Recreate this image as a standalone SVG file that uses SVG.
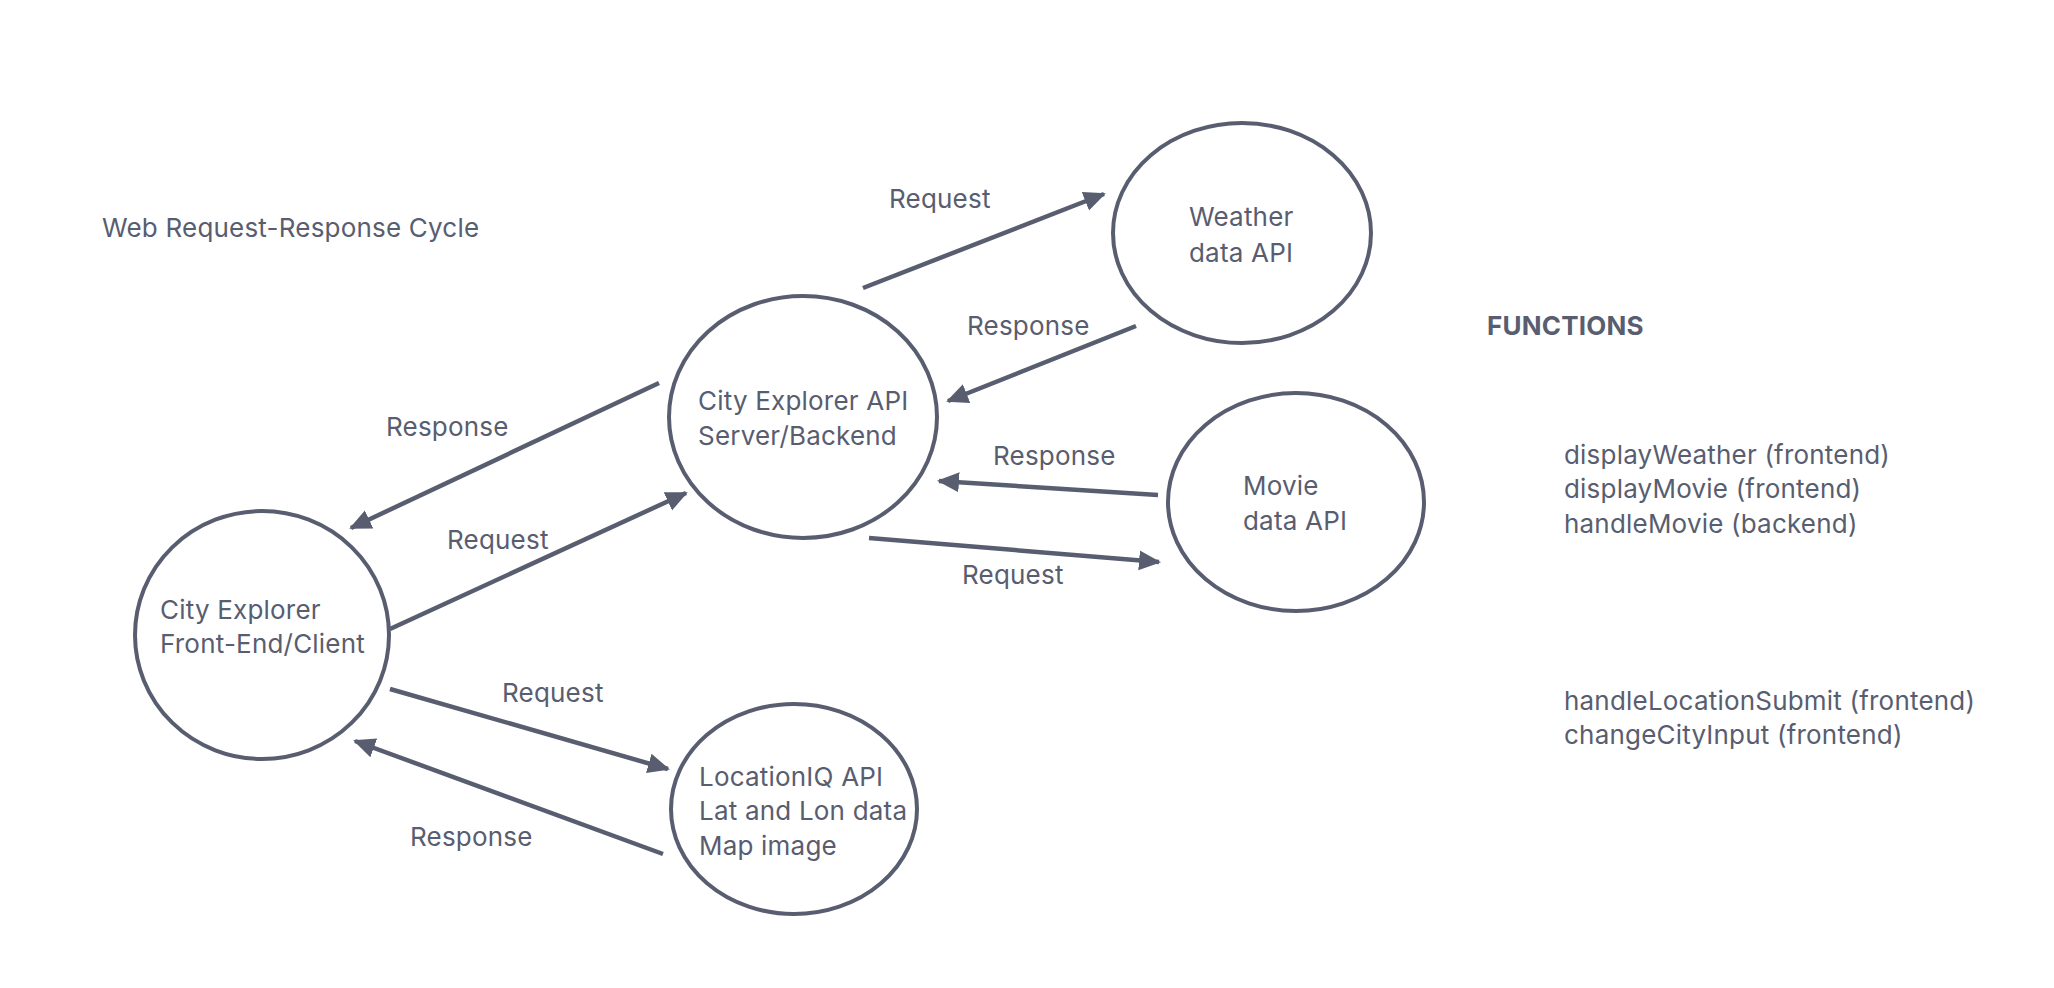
<svg xmlns="http://www.w3.org/2000/svg" width="2054" height="988" viewBox="0 0 2054 988">
<defs>
<style>
text{font-family:Inter,"Liberation Sans",sans-serif;font-size:26px;letter-spacing:0.2px;fill:#585d70}
.b{font-weight:700}
.n{fill:#fff;stroke:#585d70;stroke-width:4}
.c{stroke:#585d70;stroke-width:4.5;fill:none;marker-end:url(#ah)}
</style>
<marker id="ah" markerUnits="userSpaceOnUse" markerWidth="24" markerHeight="24" viewBox="0 0 24 24" refX="20" refY="12" orient="auto">
<path d="M0,2 L22,12 L0,22 Z" fill="#585d70"/>
</marker>
</defs>
<rect width="2054" height="988" fill="#fff"/>
<text x="102" y="237">Web Request-Response Cycle</text>
<g id="connectors">
<line class="c" x1="659" y1="383" x2="351" y2="528"/>
<line class="c" x1="390" y1="629" x2="686" y2="493"/>
<line class="c" x1="863" y1="288" x2="1104" y2="194"/>
<line class="c" x1="1136" y1="326" x2="948" y2="401"/>
<line class="c" x1="1158" y1="495" x2="939" y2="481"/>
<line class="c" x1="869" y1="538" x2="1159" y2="562"/>
<line class="c" x1="390" y1="689" x2="668" y2="769"/>
<line class="c" x1="663" y1="854" x2="355" y2="741"/>
<text x="386" y="436">Response</text>
<text x="447" y="549">Request</text>
<text x="889" y="208">Request</text>
<text x="967" y="335">Response</text>
<text x="993" y="465">Response</text>
<text x="962" y="584">Request</text>
<text x="502" y="702">Request</text>
<text x="410" y="846">Response</text>
</g>
<g id="frontend">
<ellipse class="n" cx="262" cy="635" rx="127" ry="124"/>
<text x="160" y="619">City Explorer</text>
<text x="160" y="653">Front-End/Client</text>
</g>
<g id="backend">
<ellipse class="n" cx="803" cy="417" rx="134" ry="121"/>
<text x="698" y="410">City Explorer API</text>
<text x="698" y="445">Server/Backend</text>
</g>
<g id="weather">
<ellipse class="n" cx="1242" cy="233" rx="129" ry="110"/>
<text x="1189" y="226">Weather</text>
<text x="1189" y="262">data API</text>
</g>
<g id="movie">
<ellipse class="n" cx="1296" cy="502" rx="128" ry="109"/>
<text x="1243" y="495">Movie</text>
<text x="1243" y="530">data API</text>
</g>
<g id="locationiq">
<ellipse class="n" cx="794" cy="809" rx="123" ry="105"/>
<text x="699" y="786">LocationIQ API</text>
<text x="699" y="820">Lat and Lon data</text>
<text x="699" y="855">Map image</text>
</g>
<g id="functions">
<text class="b" x="1487" y="335">FUNCTIONS</text>
<text x="1564" y="464">displayWeather (frontend)</text>
<text x="1564" y="498">displayMovie (frontend)</text>
<text x="1564" y="533">handleMovie (backend)</text>
<text x="1564" y="710">handleLocationSubmit (frontend)</text>
<text x="1564" y="744">changeCityInput (frontend)</text>
</g>
</svg>
